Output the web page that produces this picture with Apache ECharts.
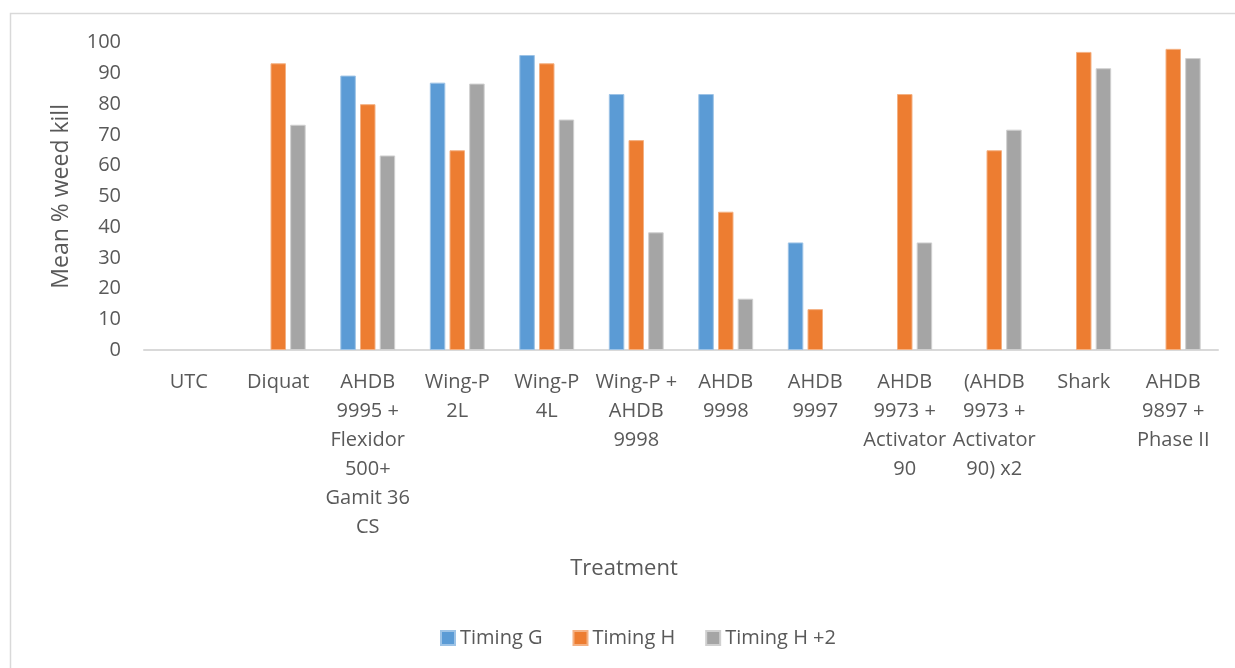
<!DOCTYPE html>
<html>
<head>
<meta charset="utf-8">
<script src="https://cdn.jsdelivr.net/npm/echarts@6/dist/echarts.min.js"></script>
<style>
  html, body { margin: 0; padding: 0; background: #fff; }
  #chart { width: 1235px; height: 668px; }
</style>
</head>
<body>
<div id="chart"></div>
<script>
// Treatments (line breaks as shown under the axis)
const categories = [
  'UTC',
  'Diquat',
  'AHDB\n9995 +\nFlexidor\n500+\nGamit 36\nCS',
  'Wing-P\n2L',
  'Wing-P\n4L',
  'Wing-P +\nAHDB\n9998',
  'AHDB\n9998',
  'AHDB\n9997',
  'AHDB\n9973 +\nActivator\n90',
  '(AHDB\n9973 +\nActivator\n90) x2',
  'Shark',
  'AHDB\n9897 +\nPhase II'
];

// Mean % weed kill per application timing
const timingG   = [null, null, 89.3, 87.0, 96.0, 83.3, 83.3, 35.0, null, null, null, null];
const timingH   = [null, 93.3, 80.0, 65.0, 93.3, 68.3, 45.0, 13.3, 83.3, 65.0, 97.0, 98.0];
const timingH2  = [null, 73.3, 63.3, 86.7, 75.0, 38.3, 16.7, null, 35.0, 71.7, 91.7, 95.0];

const yTicks = { min: 0, max: 100, interval: 10 };

const FONT = '"Open Sans", "DejaVu Sans", sans-serif';
const TEXT = '#595959';

function barSeries(name, data, color, border) {
  return {
    name: name,
    type: 'bar',
    data: data,
    barWidth: 15.5,
    barGap: '27%',
    itemStyle: { color: color, borderColor: border, borderWidth: 1 }
  };
}

const chart = echarts.init(document.getElementById('chart'), null, { renderer: 'canvas' });

chart.setOption({
  animation: false,
  backgroundColor: '#ffffff',
  textStyle: { fontFamily: FONT },
  graphic: [{
    type: 'rect',
    shape: { x: 10.5, y: 13.5, width: 1400, height: 800 },
    style: { fill: 'none', stroke: '#D9D9D9', lineWidth: 1.5 },
    silent: true,
    z: -10
  }],
  grid: { left: 144, right: 17, top: 42.7, bottom: 318, containLabel: false },
  legend: {
    bottom: 15,
    left: 435,
    itemWidth: 14,
    itemHeight: 14,
    itemGap: 30,
    icon: 'rect',
    textStyle: { color: TEXT, fontSize: 20, fontFamily: FONT },
    data: ['Timing G', 'Timing H', 'Timing H +2']
  },
  xAxis: {
    type: 'category',
    data: categories,
    name: 'Treatment',
    nameLocation: 'middle',
    nameGap: 208,
    nameTextStyle: { color: TEXT, fontSize: 22, fontFamily: FONT, padding: [0, 114, 0, 0] },
    axisLine: { show: true, lineStyle: { color: '#D9D9D9', width: 2 } },
    axisTick: { show: false },
    axisLabel: {
      interval: 0,
      margin: 18,
      color: TEXT,
      fontSize: 20,
      lineHeight: 29,
      fontFamily: FONT,
      align: 'center'
    }
  },
  yAxis: {
    type: 'value',
    min: yTicks.min,
    max: yTicks.max,
    interval: yTicks.interval,
    name: 'Mean % weed kill',
    nameLocation: 'middle',
    nameGap: 71,
    nameRotate: 90,
    nameTextStyle: { color: TEXT, fontSize: 23, fontFamily: FONT },
    axisLine: { show: false },
    axisTick: { show: false },
    splitLine: { show: false },
    axisLabel: { color: TEXT, fontSize: 20, margin: 23, fontFamily: FONT }
  },
  series: [
    barSeries('Timing G', timingG, '#5B9BD5', '#9DC3E6'),
    barSeries('Timing H', timingH, '#ED7D31', '#F4B183'),
    barSeries('Timing H +2', timingH2, '#A5A5A5', '#D0D0D0')
  ]
});
</script>
</body>
</html>
